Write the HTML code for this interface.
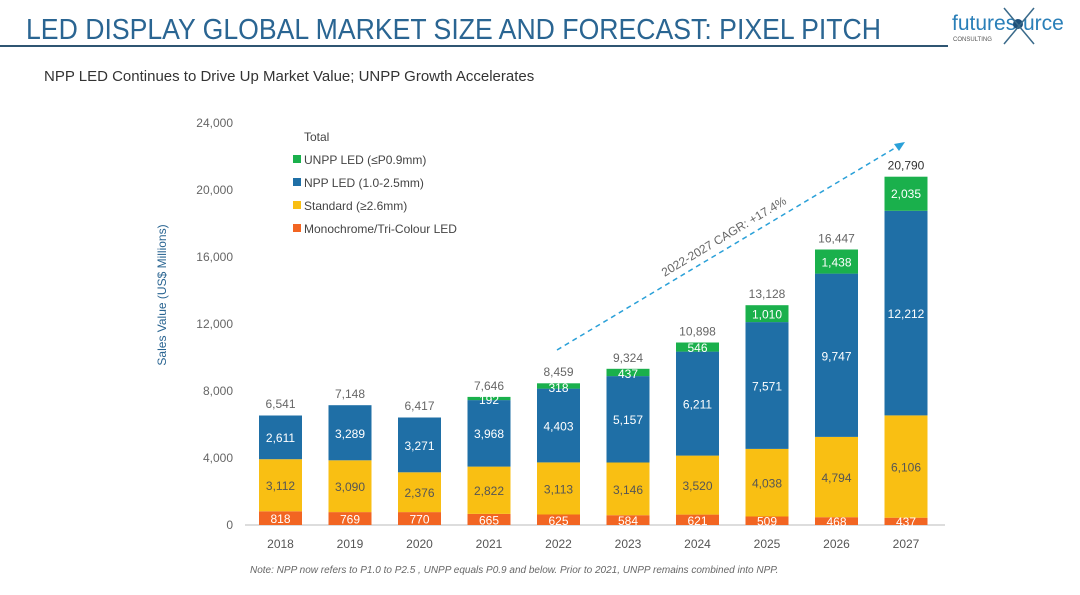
<!DOCTYPE html>
<html><head><meta charset="utf-8"><style>
body{margin:0;background:#fff;width:1080px;height:590px;overflow:hidden;font-family:"Liberation Sans",sans-serif}
</style></head><body>
<svg width="1080" height="590" xmlns="http://www.w3.org/2000/svg" font-family="Liberation Sans, sans-serif">
<text x="26" y="39" font-size="29" fill="#2a6592" textLength="855" lengthAdjust="spacingAndGlyphs">LED DISPLAY GLOBAL MARKET SIZE AND FORECAST: PIXEL PITCH</text>
<line x1="0" y1="46" x2="948" y2="46" stroke="#2f5572" stroke-width="2"/>
<text x="952" y="30" font-size="21" fill="#2a7fb8">futures</text>
<text x="1023" y="30" font-size="21" fill="#2a7fb8">urce</text>
<circle cx="1018" cy="24" r="5" fill="#1d4f7a"/>
<line x1="1004" y1="8" x2="1034" y2="44" stroke="#3a6a8a" stroke-width="1.5"/>
<line x1="1034" y1="8" x2="1004" y2="44" stroke="#3a6a8a" stroke-width="1.5"/>
<text x="953" y="41" font-size="6" fill="#555">CONSULTING</text>
<text x="44" y="81" font-size="15" fill="#333">NPP LED Continues to Drive Up Market Value; UNPP Growth Accelerates</text>
<g font-size="12" fill="#666" text-anchor="end">
<text x="233" y="529">0</text><text x="233" y="462">4,000</text><text x="233" y="395">8,000</text><text x="233" y="328">12,000</text><text x="233" y="261">16,000</text><text x="233" y="194">20,000</text><text x="233" y="127">24,000</text>
</g>
<text transform="translate(166,295) rotate(-90)" font-size="12" fill="#2a6592" text-anchor="middle">Sales Value (US$ Millions)</text>
<line x1="245" y1="525" x2="945" y2="525" stroke="#bbb"/>
<g>
<rect x="259" y="511.3" width="43" height="13.7" fill="#f26522"/><rect x="259" y="459.2" width="43" height="52.1" fill="#f9bf13"/><rect x="259" y="415.5" width="43" height="43.7" fill="#1f6fa6"/>
<rect x="328.5" y="512.1" width="43" height="12.9" fill="#f26522"/><rect x="328.5" y="460.3" width="43" height="51.8" fill="#f9bf13"/><rect x="328.5" y="405.2" width="43" height="55.1" fill="#1f6fa6"/>
<rect x="398" y="512.1" width="43" height="12.9" fill="#f26522"/><rect x="398" y="472.3" width="43" height="39.8" fill="#f9bf13"/><rect x="398" y="417.5" width="43" height="54.8" fill="#1f6fa6"/>
<rect x="467.5" y="513.9" width="43" height="11.1" fill="#f26522"/><rect x="467.5" y="466.6" width="43" height="47.3" fill="#f9bf13"/><rect x="467.5" y="400.1" width="43" height="66.5" fill="#1f6fa6"/><rect x="467.5" y="396.9" width="43" height="3.2" fill="#1ab04c"/>
<rect x="537" y="514.5" width="43" height="10.5" fill="#f26522"/><rect x="537" y="462.4" width="43" height="52.1" fill="#f9bf13"/><rect x="537" y="388.6" width="43" height="73.8" fill="#1f6fa6"/><rect x="537" y="383.3" width="43" height="5.3" fill="#1ab04c"/>
<rect x="606.5" y="515.2" width="43" height="9.8" fill="#f26522"/><rect x="606.5" y="462.5" width="43" height="52.7" fill="#f9bf13"/><rect x="606.5" y="376.1" width="43" height="86.4" fill="#1f6fa6"/><rect x="606.5" y="368.8" width="43" height="7.3" fill="#1ab04c"/>
<rect x="676" y="514.6" width="43" height="10.4" fill="#f26522"/><rect x="676" y="455.6" width="43" height="59" fill="#f9bf13"/><rect x="676" y="351.6" width="43" height="104" fill="#1f6fa6"/><rect x="676" y="342.5" width="43" height="9.1" fill="#1ab04c"/>
<rect x="745.5" y="516.5" width="43" height="8.5" fill="#f26522"/><rect x="745.5" y="448.9" width="43" height="67.6" fill="#f9bf13"/><rect x="745.5" y="322.1" width="43" height="126.8" fill="#1f6fa6"/><rect x="745.5" y="305.2" width="43" height="16.9" fill="#1ab04c"/>
<rect x="815" y="517.2" width="43" height="7.8" fill="#f26522"/><rect x="815" y="436.9" width="43" height="80.3" fill="#f9bf13"/><rect x="815" y="273.6" width="43" height="163.3" fill="#1f6fa6"/><rect x="815" y="249.5" width="43" height="24.1" fill="#1ab04c"/>
<rect x="884.5" y="517.7" width="43" height="7.3" fill="#f26522"/><rect x="884.5" y="415.4" width="43" height="102.3" fill="#f9bf13"/><rect x="884.5" y="210.8" width="43" height="204.6" fill="#1f6fa6"/><rect x="884.5" y="176.7" width="43" height="34.1" fill="#1ab04c"/>
</g>
<g font-size="12" text-anchor="middle">
<g fill="#fff">
<text x="280.5" y="523">818</text><text x="350" y="523.6">769</text><text x="419.5" y="523.6">770</text><text x="489" y="524.5">665</text><text x="558.5" y="524.8">625</text><text x="628" y="525">584</text><text x="697.5" y="524.8">621</text><text x="767" y="525.7">509</text><text x="836.5" y="526">468</text><text x="906" y="526">437</text>
<text x="280.5" y="442">2,611</text><text x="350" y="438">3,289</text><text x="419.5" y="450">3,271</text><text x="489" y="438">3,968</text><text x="558.5" y="430.5">4,403</text><text x="628" y="424">5,157</text><text x="697.5" y="408.6">6,211</text><text x="767" y="390.5">7,571</text><text x="836.5" y="360.3">9,747</text><text x="906" y="318">12,212</text>
<text x="489" y="404">192</text><text x="558.5" y="392">318</text><text x="628" y="378">437</text><text x="697.5" y="352">546</text><text x="767" y="318.7">1,010</text><text x="836.5" y="266.6">1,438</text><text x="906" y="198">2,035</text>
</g>
<g fill="#555">
<text x="280.5" y="490">3,112</text><text x="350" y="491">3,090</text><text x="419.5" y="497">2,376</text><text x="489" y="495">2,822</text><text x="558.5" y="493.5">3,113</text><text x="628" y="494">3,146</text><text x="697.5" y="490">3,520</text><text x="767" y="487.7">4,038</text><text x="836.5" y="482">4,794</text><text x="906" y="471.6">6,106</text>
</g>
<g fill="#666">
<text x="280.5" y="408">6,541</text><text x="350" y="398">7,148</text><text x="419.5" y="410">6,417</text><text x="489" y="390">7,646</text><text x="558.5" y="376">8,459</text><text x="628" y="362">9,324</text><text x="697.5" y="335.5">10,898</text><text x="767" y="298">13,128</text><text x="836.5" y="242.5">16,447</text><text x="906" y="169.7" fill="#333">20,790</text>
</g>
<g fill="#555">
<text x="280.5" y="548">2018</text><text x="350" y="548">2019</text><text x="419.5" y="548">2020</text><text x="489" y="548">2021</text><text x="558.5" y="548">2022</text><text x="628" y="548">2023</text><text x="697.5" y="548">2024</text><text x="767" y="548">2025</text><text x="836.5" y="548">2026</text><text x="906" y="548">2027</text>
</g>
</g>
<g font-size="12" fill="#444">
<text x="304" y="141">Total</text>
<rect x="293" y="155" width="8" height="8" fill="#1ab04c"/><text x="304" y="164">UNPP LED (≤P0.9mm)</text>
<rect x="293" y="178" width="8" height="8" fill="#1f6fa6"/><text x="304" y="187">NPP LED (1.0-2.5mm)</text>
<rect x="293" y="201" width="8" height="8" fill="#f9bf13"/><text x="304" y="210">Standard (≥2.6mm)</text>
<rect x="293" y="224" width="8" height="8" fill="#f26522"/><text x="304" y="233">Monochrome/Tri-Colour LED</text>
</g>
<line x1="557" y1="350" x2="900" y2="145" stroke="#2aa0d8" stroke-width="1.5" stroke-dasharray="5,4"/>
<polygon points="905,142 894,144 899,151" fill="#2aa0d8"/>
<text transform="translate(726,240) rotate(-31)" font-size="12" fill="#666" text-anchor="middle">2022-2027 CAGR: +17.4%</text>
<text x="250" y="573" font-size="10" font-style="italic" fill="#666">Note: NPP now refers to P1.0 to P2.5 , UNPP equals P0.9 and below. Prior to 2021, UNPP remains combined into NPP.</text>
</svg>
</body></html>
